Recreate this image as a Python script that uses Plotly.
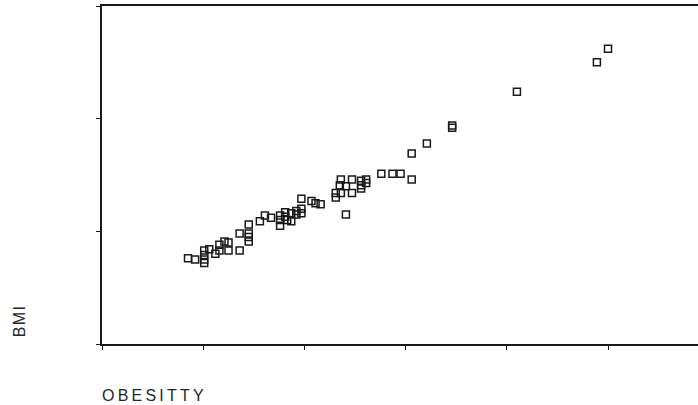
import plotly.graph_objects as go

# OBESITTY (x) vs BMI (y)
obesitty = [0.85, 0.92, 1.01, 1.01, 1.01, 1.01, 1.06, 1.12, 1.16, 1.16,
            1.21, 1.25, 1.25, 1.36, 1.36, 1.45, 1.45, 1.45, 1.45, 1.56,
            1.61, 1.67, 1.76, 1.76, 1.76, 1.81, 1.81, 1.83, 1.87, 1.87,
            1.92, 1.92, 1.97, 1.97, 1.97, 2.07, 2.11, 2.16, 2.31, 2.31,
            2.36, 2.35, 2.36, 2.41, 2.41, 2.47, 2.47, 2.56, 2.56, 2.56,
            2.61, 2.61, 2.76, 2.87, 2.95, 3.06, 3.06, 3.21, 3.46, 3.46,
            4.10, 4.89, 5.00]
bmi = [0.76, 0.75, 0.83, 0.79, 0.75, 0.72, 0.84, 0.80, 0.83, 0.88,
       0.91, 0.90, 0.83, 0.83, 0.98, 1.06, 0.98, 0.95, 0.91, 1.09,
       1.14, 1.12, 1.05, 1.10, 1.14, 1.17, 1.13, 1.10, 1.16, 1.09,
       1.18, 1.15, 1.20, 1.16, 1.29, 1.27, 1.25, 1.24, 1.30, 1.34,
       1.34, 1.41, 1.46, 1.40, 1.15, 1.46, 1.34, 1.45, 1.41, 1.38,
       1.46, 1.43, 1.51, 1.51, 1.51, 1.46, 1.69, 1.78, 1.94, 1.92,
       2.24, 2.50, 2.62]

x_ticks = [0, 1, 2, 3, 4, 5]
y_ticks = [0, 1, 2, 3]

ink = "#1a1a1a"
label_font = dict(family="Liberation Sans, Arial, sans-serif", size=16, color="#262626")

fig = go.Figure(go.Scatter(
    x=obesitty, y=bmi, mode="markers",
    marker=dict(symbol="square-open", size=7, color=ink, line=dict(width=1.5, color=ink)),
    hoverinfo="skip", showlegend=False,
))

fig.update_layout(
    width=698, height=405,
    margin=dict(l=102, r=0, t=6, b=61),
    paper_bgcolor="white", plot_bgcolor="white",
    xaxis=dict(range=[0, 5.889], tickvals=x_ticks, showticklabels=False,
               ticks="outside", ticklen=4, tickwidth=1.3, tickcolor=ink,
               showline=True, linecolor=ink, linewidth=1.6, mirror=True,
               showgrid=False, zeroline=False),
    yaxis=dict(range=[0, 3], tickvals=y_ticks, showticklabels=False,
               ticks="outside", ticklen=4, tickwidth=1.3, tickcolor=ink,
               showline=True, linecolor=ink, linewidth=1.8,
               showgrid=False, zeroline=False),
    annotations=[
        dict(text="B\u200aM\u200aI", xref="paper", yref="paper",
             x=-0.139, y=0.065, xanchor="center", yanchor="middle",
             textangle=-90, showarrow=False, font=label_font),
        dict(text="O\u2009B\u2009E\u2009S\u2009I\u2009T\u2009T\u2009Y", xref="paper", yref="paper",
             x=0.086, y=-0.151, xanchor="center", yanchor="middle",
             showarrow=False, font=label_font),
    ],
)

fig.write_html("out.html")
